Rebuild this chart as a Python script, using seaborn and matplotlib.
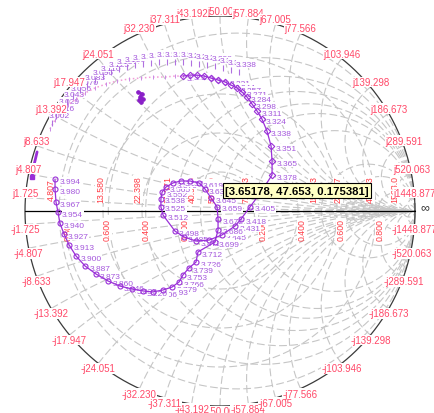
import numpy as np
import matplotlib
matplotlib.use("Agg")
import matplotlib.pyplot as plt
import seaborn as sns

sns.set_theme(style="white")
plt.rcParams["font.family"] = ["Liberation Sans", "DejaVu Sans"]

Z0 = 50.0

# reactance arcs ending on the rim (ohms)
rim_reactance = ["1.725", "4.807", "8.633", "13.392", "17.947", "24.051", "32.230",
                 "37.311", "43.192", "50.00", "57.884", "67.005", "77.566", "103.946",
                 "139.298", "186.673", "289.591", "520.063", "1448.877"]
# constant-resistance circles (ohms)
resistance_marks = ["4.807", "13.580", "22.398", "31.571", "40.906", "50.000",
                    "71.313", "158.13", "232.37", "475.93", "1563.0"]
# constant |Gamma| circles and their axis labels
gamma_circles = [0.2, 0.4, 0.6, 0.8]
gamma_marks = [-0.8, -0.6, -0.4, -0.2, 0.2, 0.4, 0.6, 0.8]

# faint reference sweep (upper left)
ref_re = [-0.872, -0.846, -0.815, -0.779, -0.738, -0.692, -0.641, -0.585, -0.528,
          -0.467, -0.405, -0.344, -0.282, -0.231, -0.190]
ref_im = [0.421, 0.467, 0.508, 0.544, 0.574, 0.605, 0.631, 0.651, 0.667,
          0.677, 0.682, 0.687, 0.687, 0.692, 0.692]

# outer sweep with frequency tags (GHz)
outer_freq = [3.002, 3.016, 3.029, 3.043, 3.056, 3.070, 3.083, 3.096, 3.110, 3.123,
              3.137, 3.150, 3.163, 3.177, 3.190, 3.204, 3.217, 3.231, 3.244, 3.257,
              3.271, 3.284, 3.298, 3.311, 3.324, 3.338]
outer_re = [-0.862, -0.841, -0.815, -0.785, -0.754, -0.718, -0.682, -0.641, -0.600,
            -0.559, -0.518, -0.477, -0.436, -0.395, -0.354, -0.313, -0.272, -0.231,
            -0.190, -0.149, -0.108, -0.067, -0.026, 0.015, 0.056, 0.097]
outer_im = [0.451, 0.487, 0.523, 0.559, 0.590, 0.621, 0.646, 0.672, 0.692, 0.713,
            0.728, 0.738, 0.749, 0.754, 0.759, 0.764, 0.764, 0.764, 0.764, 0.759,
            0.754, 0.749, 0.744, 0.733, 0.723, 0.713]

# main sweep, part 1: upper arc
arc_freq = [3.150, 3.163, 3.177, 3.190, 3.204, 3.217, 3.231, 3.244, 3.257, 3.271,
            3.284, 3.298, 3.311, 3.324, 3.338, 3.351, 3.365, 3.378]
arc_re = [-0.190, -0.154, -0.118, -0.082, -0.046, -0.010, 0.026, 0.056, 0.087, 0.113,
          0.138, 0.164, 0.190, 0.215, 0.241, 0.262, 0.267, 0.267]
arc_im = [0.692, 0.697, 0.697, 0.692, 0.682, 0.672, 0.662, 0.646, 0.631, 0.610,
          0.585, 0.549, 0.513, 0.472, 0.410, 0.333, 0.256, 0.185]

# main sweep, part 2: loop near the centre
loop_freq = [3.392, 3.405, 3.418, 3.431, 3.445, 3.458, 3.472, 3.485, 3.498, 3.512,
             3.525, 3.538, 3.552, 3.565, 3.579, 3.592, 3.605, 3.619, 3.632, 3.645,
             3.659, 3.672, 3.686, 3.699, 3.712, 3.726, 3.739, 3.753]
loop_re = [0.210, 0.154, 0.108, 0.077, 0.010, -0.056, -0.123, -0.185, -0.231, -0.292,
           -0.303, -0.303, -0.297, -0.277, -0.241, -0.200, -0.154, -0.108, -0.077, -0.046,
           -0.015, -0.010, -0.010, -0.026, -0.113, -0.123, -0.159, -0.190]
loop_im = [0.097, 0.021, -0.041, -0.077, -0.123, -0.149, -0.154, -0.133, -0.103, -0.021,
           0.021, 0.062, 0.097, 0.123, 0.144, 0.154, 0.154, 0.144, 0.113, 0.067,
           0.021, -0.041, -0.097, -0.159, -0.210, -0.262, -0.292, -0.328]

# main sweep, part 3: lower left arc
low_freq = [3.766, 3.779, 3.793, 3.806, 3.820, 3.833, 3.846, 3.860, 3.873, 3.887,
            3.900, 3.913, 3.927, 3.940, 3.954, 3.967, 3.980, 3.994]
low_re = [-0.210, -0.246, -0.292, -0.344, -0.395, -0.451, -0.513, -0.574, -0.636, -0.692,
          -0.738, -0.774, -0.800, -0.821, -0.831, -0.841, -0.846, -0.846]
low_im = [-0.364, -0.390, -0.405, -0.415, -0.410, -0.400, -0.385, -0.359, -0.323, -0.282,
          -0.231, -0.174, -0.118, -0.062, -0.005, 0.046, 0.113, 0.164]

# short sweep along the left rim
edge_re = [-0.938, -0.949, -0.959, -0.964]
edge_im = [0.303, 0.256, 0.215, 0.174]

# small cluster
blob_re = [-0.421, -0.400, -0.410, -0.395, -0.415, -0.405]
blob_im = [0.610, 0.600, 0.585, 0.574, 0.569, 0.559]

cursor_text = "[3.65178, 47.653, 0.175381]"

LINE = "#9a2fd8"
LABEL = "#a457dc"
RIM_RED = "#ff4868"
AXIS_RED = "#ff3b45"

fig = plt.figure(figsize=(4.35, 4.14), dpi=100)
ax = fig.add_axes([0, 0, 1, 1])
ax.set_xlim(-220 / 195, 215 / 195)
ax.set_ylim(-202 / 195, 212 / 195)
ax.axis("off")

# --- Smith chart grid ---
grid = dict(color="#c6c6c6", lw=0.8, dashes=(7, 3), zorder=1)
t = np.linspace(0, 2 * np.pi, 720)
for s in resistance_marks:
    r = float(s) / Z0
    c, rad = r / (1 + r), 1 / (1 + r)
    ax.plot(c + rad * np.cos(t), rad * np.sin(t), **grid)
for v in gamma_circles:
    ax.plot(v * np.cos(t), v * np.sin(t), **grid)
rr = np.concatenate([np.linspace(0, 3, 300), np.logspace(np.log10(3.01), 5, 300)])
for s in rim_reactance:
    x = float(s) / Z0
    for sign in (1, -1):
        g = (rr + 1j * sign * x - 1) / (rr + 1j * sign * x + 1)
        ax.plot(g.real, g.imag, **grid)

ax.plot(np.cos(t), np.sin(t), color="#3a3a3a", lw=0.9, zorder=2)
ax.plot([-1, 1], [0, 0], color="black", lw=0.9, zorder=2)

box = dict(boxstyle="square,pad=0.05", fc="white", ec="none")

# resistance and |Gamma| labels on the real axis
for s in resistance_marks:
    r = float(s) / Z0
    g = (r - 1) / (r + 1)
    ax.text(g - 0.041, 0.113, s, rotation=90, ha="center", va="center",
            fontsize=6.3, color=AXIS_RED, bbox=box, zorder=3)
for v in gamma_marks:
    ax.text(v + 0.021, -0.092, f"{abs(v):.3f}", rotation=90, ha="center",
            va="center", fontsize=6.3, color=AXIS_RED, bbox=box, zorder=3)

# --- sweeps ---
sns.lineplot(x=ref_re, y=ref_im, sort=False, estimator=None, ax=ax, color="#f29bd8",
             lw=1.1, linestyle=":", marker="|", markersize=3, markeredgewidth=0.7,
             markeredgecolor="#c98be6", zorder=5)

sns.lineplot(x=outer_re, y=outer_im, sort=False, estimator=None, ax=ax, color="#b070e0",
             linestyle="", marker="|", markersize=4, markeredgewidth=0.8,
             markeredgecolor="#b070e0", zorder=5)

main_re = arc_re + loop_re + low_re
main_im = arc_im + loop_im + low_im
sns.lineplot(x=main_re, y=main_im, sort=False, estimator=None, ax=ax, color=LINE,
             lw=0.9, zorder=5)
sns.lineplot(x=arc_re, y=arc_im, sort=False, estimator=None, ax=ax, color=LINE,
             linestyle="", marker="D", markersize=3.3, markerfacecolor="none",
             markeredgecolor=LINE, markeredgewidth=0.8, zorder=5)
for xs, ys in ((loop_re, loop_im), (low_re, low_im)):
    sns.lineplot(x=xs, y=ys, sort=False, estimator=None, ax=ax, color=LINE,
                 linestyle="", marker="o", markersize=3.6, markerfacecolor="none",
                 markeredgecolor=LINE, markeredgewidth=0.8, zorder=5)

sns.lineplot(x=edge_re, y=edge_im, sort=False, estimator=None, ax=ax, color=LINE,
             lw=2.0, zorder=5)
ax.plot(edge_re[-1:], edge_im[-1:], marker="s", ms=3.5, color=LINE, zorder=5)
sns.lineplot(x=blob_re, y=blob_im, sort=False, estimator=None, ax=ax, color="#8a1fc8",
             lw=2.0, marker="o", markersize=2.5, markeredgecolor="#8a1fc8", zorder=5)


def freq_tags(xs, ys, freqs, dx, dy):
    for x, y, f in zip(xs, ys, freqs):
        ax.annotate(f"{f:.3f}", (x, y), xytext=(dx, dy), textcoords="offset points",
                    ha="left", va="center", fontsize=6, color=LABEL, bbox=box, zorder=4)


freq_tags(outer_re, outer_im, outer_freq, -2, 5.5)
freq_tags(arc_re, arc_im, arc_freq, 3, -1.5)
freq_tags(loop_re, loop_im, loop_freq, 3, -1.5)
freq_tags(low_re, low_im, low_freq, 3, -1.5)

# rim labels, drawn from the top/bottom outwards
order = sorted(range(len(rim_reactance)),
               key=lambda i: abs(np.log(float(rim_reactance[i]) / Z0)))
for i in order:
    x = float(rim_reactance[i]) / Z0
    for sign, pre in ((1, "j"), (-1, "-j")):
        g = (1j * sign * x - 1) / (1j * sign * x + 1)
        ax.annotate(pre + rim_reactance[i], (g.real, g.imag), xytext=(0, 3.6 * sign),
                    textcoords="offset points", ha="center", va="center", fontsize=7,
                    color=RIM_RED, bbox=box, zorder=6)

ax.text(1.051, 0.02, "\u221e", ha="center", va="center", fontsize=9,
        color="#333333", zorder=6)

# cursor readout
ax.text(0.026, 0.105, cursor_text, ha="left", va="center", fontsize=8.2,
        fontweight="bold", color="black", zorder=8,
        bbox=dict(boxstyle="square,pad=0.2", fc="#ffffc4", ec="black", lw=0.8))

fig.savefig("out.png", dpi=100)
